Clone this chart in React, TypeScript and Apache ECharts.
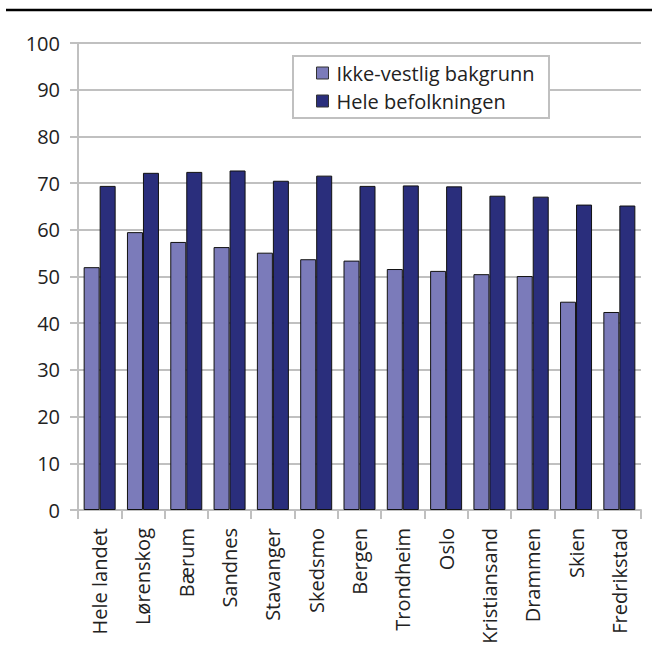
import React, { useEffect, useRef } from "react";
import * as echarts from "echarts";

const categories = [
  "Hele landet", "Lørenskog", "Bærum", "Sandnes", "Stavanger", "Skedsmo",
  "Bergen", "Trondheim", "Oslo", "Kristiansand", "Drammen", "Skien", "Fredrikstad",
];
const ikkeVestlig = [52.0, 59.5, 57.4, 56.3, 55.1, 53.7, 53.4, 51.6, 51.2, 50.5, 50.1, 44.6, 42.4];
const heleBefolkningen = [69.4, 72.2, 72.4, 72.7, 70.5, 71.6, 69.4, 69.5, 69.3, 67.3, 67.1, 65.4, 65.2];
const seriesNames = ["Ikke-vestlig bakgrunn", "Hele befolkningen"];

const FONT = "'Open Sans', 'Noto Sans', sans-serif";
const GRAY = "#c0c0c0";

export default function App() {
  const ref = useRef<HTMLDivElement>(null);
  useEffect(() => {
    if (!ref.current) return;
    const chart = echarts.init(ref.current, null, { renderer: "svg" });
    chart.setOption({
      animation: false,
      backgroundColor: "#ffffff",
      textStyle: { fontFamily: FONT },
      grid: { left: 78, right: 17, top: 43, bottom: 139, containLabel: false },
      graphic: [
        {
          type: "line",
          shape: { x1: 6, y1: 10, x2: 652, y2: 10 },
          style: { stroke: "#000", lineWidth: 2.5 },
          z: 100,
        },
        {
          type: "rect",
          shape: { x: 293, y: 56, width: 256, height: 62 },
          style: { fill: "#fff", stroke: GRAY, lineWidth: 2 },
          z: 5,
        },
      ],
      legend: {
        left: 316,
        top: 61,
        orient: "vertical",
        icon: "rect",
        itemWidth: 12,
        itemHeight: 12,
        itemGap: 4,
        padding: 0,
        z: 10,
        data: seriesNames,
        textStyle: { fontFamily: FONT, fontSize: 20, color: "#222", lineHeight: 24, padding: [0, 0, 0, 3] },
        itemStyle: { borderColor: "#333", borderWidth: 1 },
      },
      xAxis: {
        type: "category",
        data: categories,
        axisLine: { show: true, lineStyle: { color: GRAY, width: 2 } },
        axisTick: { show: true, interval: 0, length: 9, lineStyle: { color: GRAY, width: 2 } },
        axisLabel: {
          interval: 0,
          rotate: 90,
          margin: 18,
          fontSize: 20,
          color: "#222",
          fontFamily: FONT,
        },
      },
      yAxis: {
        type: "value",
        min: 0,
        max: 100,
        interval: 10,
        axisLine: { show: true, lineStyle: { color: GRAY, width: 2 } },
        axisTick: { show: true, length: 8, lineStyle: { color: GRAY, width: 2 } },
        splitLine: { show: true, lineStyle: { color: GRAY, width: 2 } },
        axisLabel: { fontSize: 20, color: "#222", margin: 18, fontFamily: FONT },
      },
      series: [
        {
          name: seriesNames[0],
          type: "bar",
          data: ikkeVestlig,
          barWidth: 16,
          barGap: "0%",
          itemStyle: { color: "#7b7bba", borderColor: "#111", borderWidth: 1 },
        },
        {
          name: seriesNames[1],
          type: "bar",
          data: heleBefolkningen,
          barWidth: 16,
          barGap: "0%",
          itemStyle: { color: "#2a2e7c", borderColor: "#111", borderWidth: 1 },
        },
      ],
    });
    return () => chart.dispose();
  }, []);
  return (
    <div
      ref={ref}
      style={{ position: "fixed", left: 0, top: 0, width: 658, height: 649 }}
    />
  );
}
